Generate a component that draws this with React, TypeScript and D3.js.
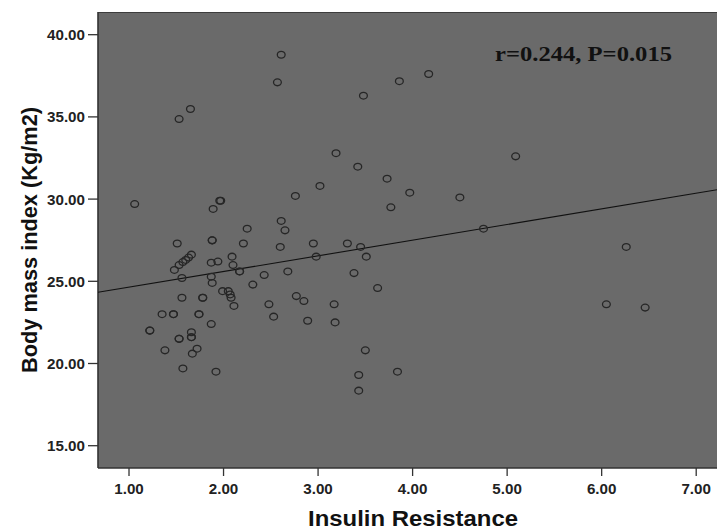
import React from "react";
import * as d3 from "d3";

const insulinResistance: number[] = [
  1.06, 1.53, 1.65, 2.57, 2.61, 1.89, 1.96, 1.97, 2.76, 3.02,
  3.19, 3.42, 2.61, 2.65, 2.25, 1.51, 1.88, 1.88, 2.21, 2.60,
  2.95, 3.31, 3.45, 2.98, 2.09, 3.51, 3.48, 3.86, 4.17, 5.09,
  3.73, 3.97, 3.77, 4.50, 4.75, 6.26, 3.63, 6.05, 6.46, 3.50,
  3.43, 3.84, 3.43, 3.38, 1.66, 1.63, 1.60, 1.57, 1.53, 1.48,
  1.87, 1.94, 2.10, 2.17, 2.17, 1.56, 1.87, 1.88, 2.43, 2.68,
  2.31, 1.99, 2.05, 2.07, 2.08, 2.11, 1.56, 1.78, 1.78, 1.35,
  1.47, 1.47, 1.74, 1.74, 1.87, 1.22, 1.22, 1.66, 1.66, 1.66,
  1.53, 1.53, 1.38, 1.72, 1.67, 1.57, 1.92, 2.48, 2.53, 2.77,
  2.85, 2.89, 3.17, 3.18,
];

const bodyMassIndex: number[] = [
  29.7, 34.87, 35.48, 37.1, 38.78, 29.4, 29.9, 29.9, 30.19, 30.8,
  32.79, 31.97, 28.67, 28.1, 28.2, 27.3, 27.49, 27.49, 27.3, 27.09,
  27.3, 27.3, 27.09, 26.5, 26.5, 26.5, 36.29, 37.17, 37.61, 32.6,
  31.24, 30.39, 29.5, 30.1, 28.2, 27.09, 24.59, 23.6, 23.4, 20.8,
  19.3, 19.5, 18.35, 25.5, 26.62, 26.44, 26.3, 26.17, 25.99, 25.69,
  26.13, 26.2, 25.99, 25.6, 25.6, 25.2, 25.28, 24.9, 25.38, 25.6,
  24.8, 24.4, 24.4, 24.2, 24.0, 23.5, 24.0, 24.0, 24.0, 23.0,
  23.0, 23.0, 23.0, 23.0, 22.4, 22.0, 22.0, 21.9, 21.6, 21.6,
  21.5, 21.5, 20.8, 20.9, 20.6, 19.7, 19.5, 23.6, 22.85, 24.1,
  23.8, 22.6, 23.6, 22.5,
];

const xTicks: number[] = [1, 2, 3, 4, 5, 6, 7];
const yTicks: number[] = [15, 20, 25, 30, 35, 40];

const fitIntercept = 23.69;
const fitSlope = 0.953;

const xTitle = "Insulin Resistance";
const yTitle = "Body mass index (Kg/m2)";
const annotation = "r=0.244, P=0.015";

export default function App() {
  const W = 717;
  const H = 529;
  const left = 98;
  const right = 717;
  const top = 12;
  const bottom = 468;

  const x = d3.scaleLinear().domain([0.672, 7.22]).range([left, right]);
  const y = d3.scaleLinear().domain([13.644, 41.38]).range([bottom, top]);

  const points = insulinResistance.map((v, i) => ({ x: v, y: bodyMassIndex[i] }));
  const [x0, x1] = x.domain();
  const fitPath = d3
    .line<number>()
    .x((d) => x(d))
    .y((d) => y(fitIntercept + fitSlope * d))([x0, x1]);

  const fmt = d3.format(".2f");

  return (
    <svg
      width={W}
      height={H}
      style={{ position: "absolute", left: 0, top: 0, background: "#fff" }}
    >
      <rect x={left} y={top} width={right - left} height={bottom - top} fill="#6a6a6a" />
      <line x1={left} x2={right} y1={top + 0.5} y2={top + 0.5} stroke="#3c3c3c" strokeWidth={1} />
      <line x1={left} x2={left} y1={top} y2={bottom} stroke="#333" strokeWidth={1.6} />
      <line x1={left} x2={right} y1={bottom} y2={bottom} stroke="#333" strokeWidth={1.6} />

      {yTicks.map((t) => (
        <g key={"y" + t}>
          <line x1={88} x2={left} y1={y(t)} y2={y(t)} stroke="#333" strokeWidth={1.3} />
          <text
            x={85}
            y={y(t) + 5.5}
            textAnchor="end"
            fontFamily="'Liberation Sans', Arial, sans-serif"
            fontWeight="bold"
            fontSize={14.5}
            fill="#222"
            textLength={38}
            lengthAdjust="spacingAndGlyphs"
          >
            {fmt(t)}
          </text>
        </g>
      ))}

      {xTicks.map((t) => (
        <g key={"x" + t}>
          <line x1={x(t)} x2={x(t)} y1={bottom} y2={bottom + 8} stroke="#333" strokeWidth={1.3} />
          <text
            x={x(t)}
            y={494}
            textAnchor="middle"
            fontFamily="'Liberation Sans', Arial, sans-serif"
            fontWeight="bold"
            fontSize={14.5}
            fill="#222"
            textLength={29.5}
            lengthAdjust="spacingAndGlyphs"
          >
            {fmt(t)}
          </text>
        </g>
      ))}

      <path d={fitPath || ""} fill="none" stroke="#111" strokeWidth={1.1} />

      {points.map((p, i) => (
        <ellipse
          key={i}
          cx={x(p.x)}
          cy={y(p.y)}
          rx={3.9}
          ry={3.4}
          fill="none"
          stroke="#262626"
          strokeWidth={1.3}
        />
      ))}

      <text
        x={495}
        y={61}
        fontFamily="'Liberation Serif', 'Times New Roman', serif"
        fontWeight="bold"
        fontSize={20}
        fill="#111"
        textLength={177}
        lengthAdjust="spacingAndGlyphs"
      >
        {annotation}
      </text>

      <text
        x={413}
        y={525.5}
        textAnchor="middle"
        fontFamily="'Liberation Sans', Arial, sans-serif"
        fontWeight="bold"
        fontSize={22}
        fill="#111"
        textLength={210}
        lengthAdjust="spacingAndGlyphs"
      >
        {xTitle}
      </text>

      <text
        transform={`translate(37, 240) rotate(-90)`}
        textAnchor="middle"
        fontFamily="'Liberation Sans', Arial, sans-serif"
        fontWeight="bold"
        fontSize={22}
        fill="#111"
        textLength={266}
        lengthAdjust="spacingAndGlyphs"
      >
        {yTitle}
      </text>
    </svg>
  );
}
